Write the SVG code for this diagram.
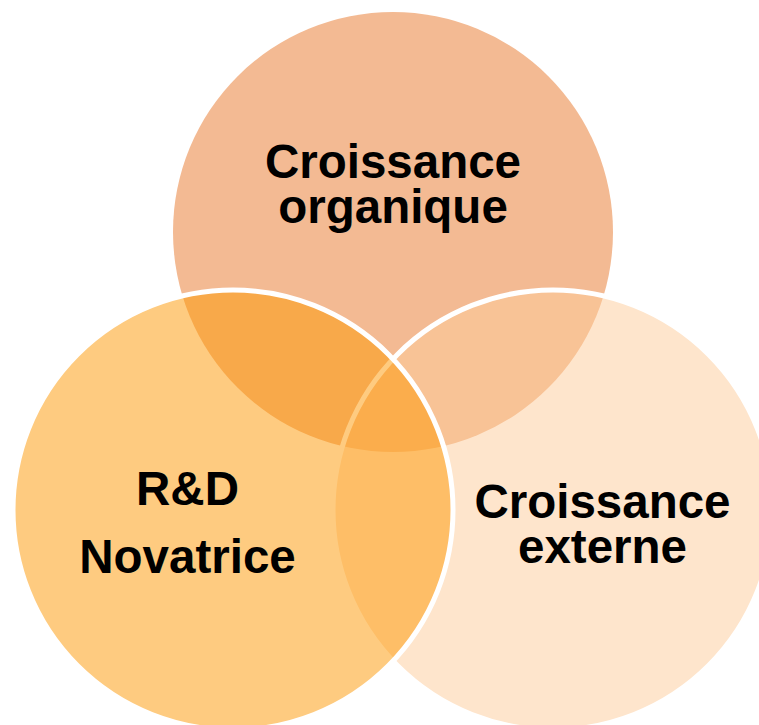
<svg xmlns="http://www.w3.org/2000/svg" width="759" height="725" viewBox="0 0 759 725">
<style>
.lbl{font-family:"Liberation Sans",Arial,sans-serif;font-weight:bold;font-size:47.5px;fill:#000;text-anchor:middle}
.ov{fill-opacity:0.5;stroke:#fff;stroke-width:5}
</style>
<rect width="759" height="725" fill="#fff"/>
<g id="organique">
<circle cx="393" cy="232" r="220" fill="#F3BA93"/>
<text class="lbl" x="393" y="178">Croissance</text>
<text class="lbl" x="393" y="223">organique</text>
</g>
<g id="externe">
<circle class="ov" cx="553" cy="510" r="220" fill="#FDCB99"/>
</g>
<g id="rd">
<circle class="ov" cx="233" cy="510" r="220" fill="#FD9701"/>
</g>
<g id="labels">
<text class="lbl" x="602.5" y="518">Croissance</text>
<text class="lbl" x="602.5" y="563">externe</text>
<text class="lbl" x="187.5" y="505">R&amp;D</text>
<text class="lbl" x="187.5" y="573">Novatrice</text>
</g>
</svg>
